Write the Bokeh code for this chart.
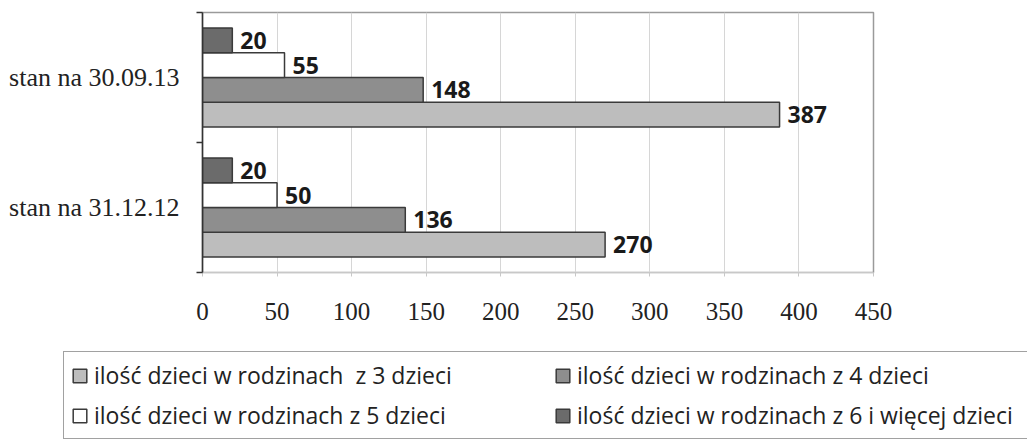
from bokeh.plotting import figure
from bokeh.models import (ColumnDataSource, Range1d, FixedTicker, LabelSet,
                          Legend, LegendItem)
from bokeh.core.properties import value
from bokeh.embed import file_html
from bokeh.resources import INLINE

# ---- data ----
categories = ["stan na 31.12.12", "stan na 30.09.13"]
dzieci_3 = [270, 387]
dzieci_4 = [136, 148]
dzieci_5 = [50, 55]
dzieci_6 = [20, 20]
series_names = [
    "ilość dzieci w rodzinach  z 3 dzieci",
    "ilość dzieci w rodzinach z 4 dzieci",
    "ilość dzieci w rodzinach z 5 dzieci",
    "ilość dzieci w rodzinach z 6 i więcej dzieci",
]
x_ticks = [0, 50, 100, 150, 200, 250, 300, 350, 400, 450]

# ---- styles ----
fills = ["#bdbdbd", "#8e8e8e", "#ffffff", "#6b6b6b"]
offsets = [-0.285, -0.095, 0.095, 0.285]
bar_h = 0.19

p = figure(width=1019, height=340, output_backend="svg", toolbar_location=None,
           x_range=Range1d(0, 450), y_range=Range1d(0, len(categories)),
           min_border_left=202, min_border_right=146, min_border_top=12,
           min_border_bottom=68)
p.background_fill_color = "white"
p.border_fill_color = "white"
p.outline_line_color = "#9a9a9a"
p.outline_line_width = 1.5

# legend panel figure (no axes)
lg = figure(width=1027, height=99, output_backend="svg", toolbar_location=None,
            x_range=Range1d(0, 1), y_range=Range1d(0, 1),
            x_axis_location=None, y_axis_location=None,
            min_border_left=0, min_border_right=0, min_border_top=0,
            min_border_bottom=0)
lg.outline_line_color = None
lg.xgrid.grid_line_color = None
lg.ygrid.grid_line_color = None

legend_renderers = []
for vals, name, fc, off in zip([dzieci_3, dzieci_4, dzieci_5, dzieci_6],
                               series_names, fills, offsets):
    src = ColumnDataSource(dict(
        y=[i + 0.5 + off for i in range(len(categories))],
        v=vals,
        lab=[str(v) for v in vals],
    ))
    p.hbar(y="y", right="v", left=0, height=bar_h, source=src,
           fill_color=fc, line_color="#3a3a3a", line_width=1.5)
    p.add_layout(LabelSet(x="v", y="y", text="lab", source=src, x_offset=8,
                          text_baseline="middle", text_align="left",
                          text_font=value("Open Sans"), text_font_style="bold",
                          text_font_size="23px", text_color="#1a1a1a"))
    # same series, used only for the legend swatch in the legend panel
    r2 = lg.hbar(y="y", right="v", left=0, height=bar_h, source=src,
                 fill_color=fc, line_color="#3a3a3a", line_width=1.5,
                 visible=False)
    legend_renderers.append((name, r2))

# x axis
xa = p.xaxis[0]
xa.ticker = FixedTicker(ticks=x_ticks)
xa.axis_line_color = "#c8c8c8"
xa.major_tick_line_color = "#c8c8c8"
xa.major_tick_out = 4
xa.major_tick_in = 0
xa.minor_tick_line_color = None
xa.major_label_standoff = 26
xa.major_label_text_font = "Liberation Serif"
xa.major_label_text_font_size = "25px"
xa.major_label_text_color = "#222222"

# y axis
ya = p.yaxis[0]
ya.ticker = FixedTicker(ticks=[i + 0.5 for i in range(len(categories))],
                        minor_ticks=list(range(len(categories) + 1)))
ya.major_label_overrides = {i + 0.5: c for i, c in enumerate(categories)}
ya.major_tick_line_color = None
ya.major_tick_out = 0
ya.major_tick_in = 0
ya.minor_tick_out = 6
ya.minor_tick_in = 0
ya.minor_tick_line_color = "#333333"
ya.minor_tick_line_width = 1.5
ya.axis_line_color = "#333333"
ya.axis_line_width = 1.5
ya.major_label_standoff = 17
ya.major_label_text_font = "Liberation Serif"
ya.major_label_text_font_size = "26px"
ya.major_label_text_color = "#222222"

p.xgrid.grid_line_color = "#d6d6d6"
p.xgrid.grid_line_width = 1
p.ygrid.grid_line_color = None

legend = Legend(items=[LegendItem(label=n, renderers=[r]) for n, r in legend_renderers],
                location=(63, 0), ncols=2, nrows=2, orientation="horizontal",
                label_width=452, label_height=30, glyph_width=17, glyph_height=17,
                label_standoff=6, spacing=8, padding=7, margin=0,
                border_line_color="#444444", border_line_width=1.5,
                label_text_font="Open Sans", label_text_font_size="23px",
                label_text_color="#222222", background_fill_alpha=1)
lg.add_layout(legend, "center")

open("out.html", "w").write(file_html([p, lg], INLINE))
